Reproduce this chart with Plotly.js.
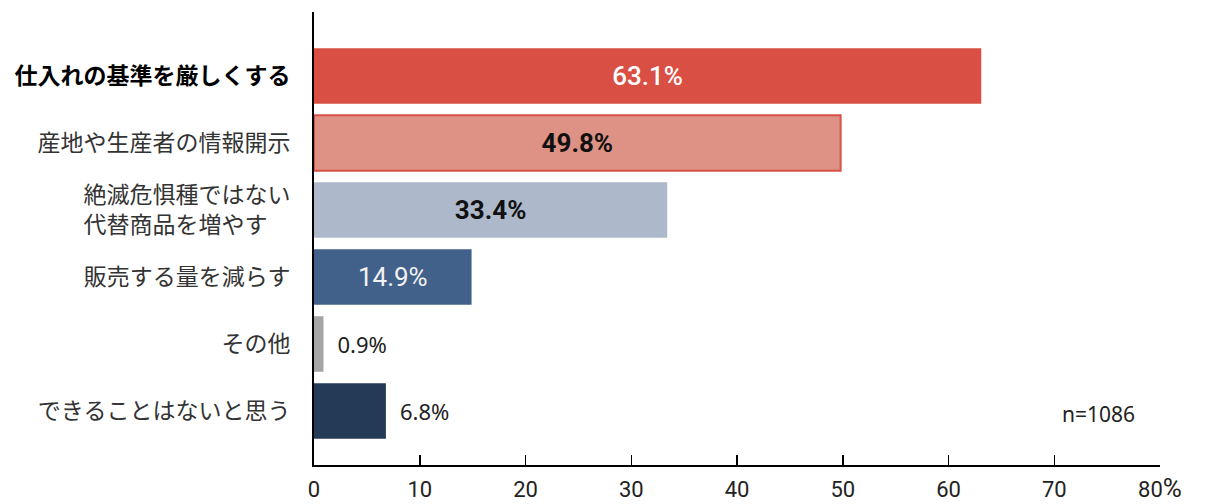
<!DOCTYPE html>
<html><head><meta charset="utf-8">
<script src="https://cdn.plot.ly/plotly-3.0.1.min.js"></script>
<style>html,body{margin:0;padding:0;background:#fff;}</style>
</head><body>
<div id="chart" style="width:1210px;height:504px;"></div>
<script>
const categories = ["仕入れの基準を厳しくする","産地や生産者の情報開示","絶滅危惧種ではない<br>代替商品を増やす　","販売する量を減らす","その他","できることはないと思う"];
const values = [63.1, 49.8, 33.4, 14.9, 0.9, 6.8];
const xTickVals = [0,10,20,30,40,50,60,70,80];
const xTickLabels = ["0","10","20","30","40","50","60","70","80<span style='font-size:26px'>%</span>"];
const sampleNote = "n=1086";

const barColors = ["#D94F43","#DE9185","#ADB9CA","#41608A","#A6A6A6","#253A57"];
const lineColors = ["#D94F43","#D9524A","#ADB9CA","#41608A","#A6A6A6","#253A57"];
const textColors = ["#ffffff","#111111","#111111","#f2f2f2","#222222","#222222"];
const textPos = ["inside","inside","inside","inside","outside","outside"];
const boldIdx = [1,2];

const texts = values.map((v,i)=> {
  const s = v.toFixed(1)+"%";
  if (boldIdx.includes(i)) return "<b>"+s+"</b>";
  if (textPos[i] === "outside") return "\u2002"+s;
  return s;
});
const tickText = categories.map((c,i)=> i===0 ? "<b><span style='color:#000'>"+c+"</span></b>" : c);
const idx = categories.map((c,i)=>i);

const narrow = "'Liberation Sans Narrow', 'Arial Narrow', Roboto, sans-serif";

const trace = {
  type: "bar",
  orientation: "h",
  y: idx,
  x: values,
  width: 0.83,
  text: texts,
  textposition: textPos,
  insidetextanchor: "middle",
  constraintext: "none",
  cliponaxis: false,
  textfont: {color: textColors, size: 26, family: narrow},
  insidetextfont: {color: textColors, size: 26, family: narrow, weight: [500,400,400,400,400,400]},
  outsidetextfont: {color: "#222222", size: 22, family: "'Noto Sans', 'Open Sans', sans-serif"},
  marker: {color: barColors, line: {color: lineColors, width: [0,2,0,0,0,0]}},
  hoverinfo: "none"
};

const layout = {
  width: 1210, height: 504,
  margin: {l: 314, r: 50, t: 12, b: 39},
  paper_bgcolor: "#ffffff", plot_bgcolor: "#ffffff",
  showlegend: false,
  font: {family: "'Noto Sans CJK JP', 'Noto Sans', sans-serif", color: "#333333"},
  xaxis: {
    range: [0, 80], tickvals: xTickVals, ticktext: xTickLabels,
    ticks: "inside", ticklen: 10, tickwidth: 1.5, tickcolor: "#000",
    showline: true, linecolor: "#000", linewidth: 1.5,
    showgrid: false, zeroline: false,
    tickfont: {family: narrow, size: 22, color: "#222"},
    ticklabelstandoff: 4, fixedrange: true
  },
  yaxis: {
    range: [5.806, -0.955], tickvals: idx, ticktext: tickText,
    showline: true, linecolor: "#000", linewidth: 2,
    ticks: "", showgrid: false, zeroline: false,
    tickfont: {family: "'Noto Sans CJK JP', sans-serif", size: 23, color: "#333"},
    ticklabelstandoff: 17, fixedrange: true
  },
  annotations: [{
    text: sampleNote, xref: "paper", yref: "paper", x: 0.927, y: 0.112,
    xanchor: "center", yanchor: "middle", showarrow: false,
    font: {family: "'Noto Sans', sans-serif", size: 21, color: "#222"}
  }]
};

Plotly.newPlot("chart", [trace], layout, {displayModeBar: false, staticPlot: true});
</script>
</body></html>
